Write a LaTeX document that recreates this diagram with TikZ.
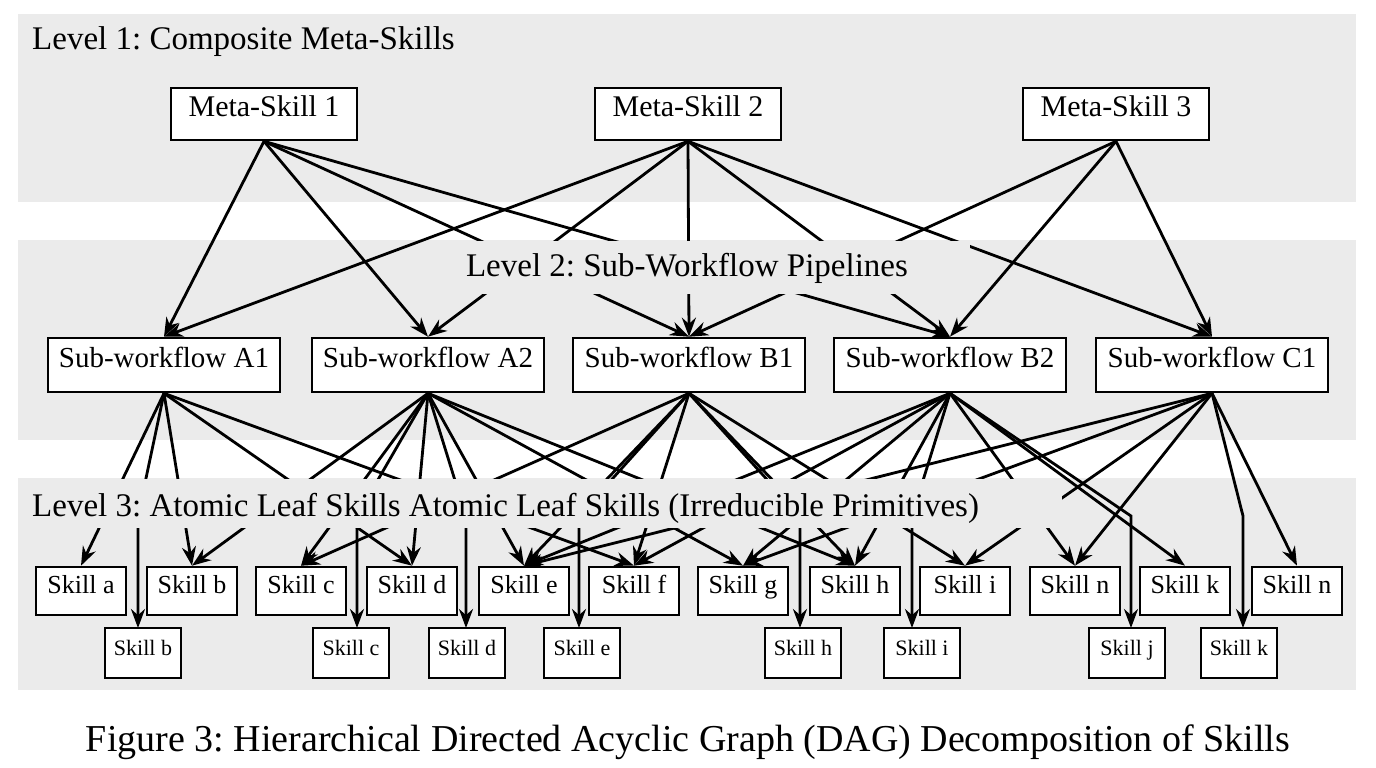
\documentclass[tikz,border=0pt]{standalone}
\usepackage{fontspec}
\setmainfont{Liberation Serif}
\frenchspacing
\usetikzlibrary{arrows.meta}
\definecolor{band}{RGB}{235,235,235}
\begin{document}
\begin{tikzpicture}[x=1pt,y=-1pt,
 box/.style={draw,line width=2.6pt,fill=white,inner sep=0pt,text height=0.72em,text depth=0.22em},
 l2/.style={box,minimum width=232pt,minimum height=54pt,font=\fontsize{29}{32}\selectfont},
 l1/.style={box,minimum width=186pt,minimum height=52pt,font=\fontsize{30}{34}\selectfont},
 s1/.style={box,minimum width=90pt,minimum height=48pt,font=\fontsize{26}{29}\selectfont},
 s2/.style={box,minimum width=76pt,minimum height=50pt,font=\fontsize{22}{25}\selectfont},
 e/.style={line width=2.8pt,-{Stealth[length=19pt,width=14pt]}},
 lab/.style={font=\fontsize{33}{37}\selectfont,inner sep=0pt,fill=band}]
\useasboundingbox (0,0) rectangle (1376,768);
\fill[white] (0,0) rectangle (1376,768);
\fill[band] (18,14) rectangle (1356,202);
\fill[band] (18,240) rectangle (1356,440);
\fill[band] (18,478) rectangle (1356,690);
% nodes
\node[l1] (M1) at (264,114) {Meta-Skill 1};
\node[l1] (M2) at (688,114) {Meta-Skill 2};
\node[l1] (M3) at (1116,114) {Meta-Skill 3};
\node[l2] (A1) at (164,365) {Sub-workflow A1};
\node[l2] (A2) at (428,365) {Sub-workflow A2};
\node[l2] (B1) at (689,365) {Sub-workflow B1};
\node[l2] (B2) at (950,365) {Sub-workflow B2};
\node[l2] (C1) at (1212,365) {Sub-workflow C1};
\foreach \n/\x/\t in {a/81/a,b/192/b,c/301/c,d/412/d,e/524/e,f/634/f,g/743/g,h/855/h,i/965/i,n/1075/n,k/1185/k,m/1297/n}
  \node[s1] (\n) at (\x,591) {Skill \t};
\foreach \n/\x/\t in {b2/143/b,c2/351/c,d2/467/d,e2/582/e,h2/803/h,i2/922/i,j2/1127/j,k2/1239/k}
  \node[s2] (\n) at (\x,653) {Skill \t};
% level 1 -> 2
\foreach \s/\ts in {M1/{A1,A2,B1,B2},M2/{A1,A2,B1,B2,C1},M3/{B1,B2,C1}}
  \foreach \t in \ts
    \draw[e] (\s.south) -- (\t.north);
% level 2 -> 3, row 1
\foreach \s/\ts in {A1/{a,b,d,f},A2/{b,c,d,e,g,h},B1/{c,e,f,h,i},B2/{e,f,g,h,k,n},C1/{e,g,i,n,m}}
  \foreach \t in \ts
    \draw[e] (\s.south) -- (\t.north);
% level 2 -> 3, row 2 (elbows)
\foreach \s/\t/\x in {A1/b2/138,A2/c2/357,A2/d2/466,B1/e2/579,B1/h2/800,B2/i2/912,B2/j2/1131,C1/k2/1243}
  \draw[e] (\s.south) -- (\x,516) -- (\x,628);
% labels
\node[anchor=west,font=\fontsize{33}{37}\selectfont,inner sep=0pt] (L1) at (32,42) {Level 1: Composite Meta-Skills};
\fill[band] (452,241) rectangle (970,294);
\node[lab] (L2) at (687,268) {Level 2: Sub-Workflow Pipelines};
\fill[band] (19,479) rectangle (1062,528);
\node[lab,anchor=west] (L3) at (32,508) {Level 3: Atomic Leaf Skills Atomic Leaf Skills (Irreducible Primitives)};
\node[font=\fontsize{38}{42}\selectfont,inner sep=0pt] (cap) at (688,742) {Figure 3: Hierarchical Directed Acyclic Graph (DAG) Decomposition of Skills};
\end{tikzpicture}
\end{document}
